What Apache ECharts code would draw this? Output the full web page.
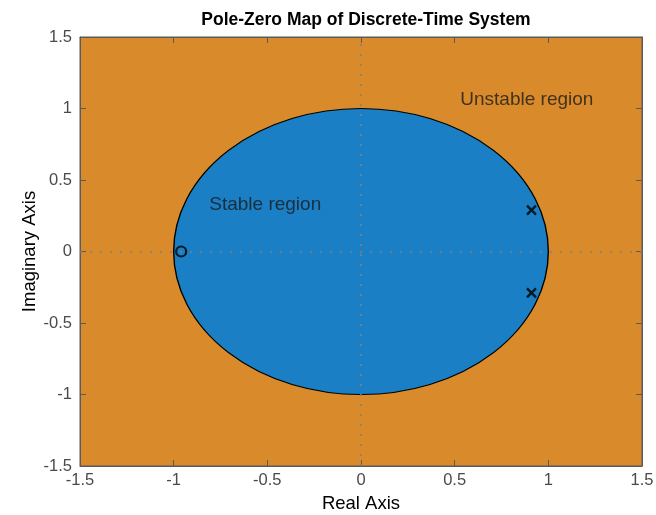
<!DOCTYPE html>
<html><head><meta charset="utf-8">
<script src="https://cdn.jsdelivr.net/npm/echarts@6/dist/echarts.min.js"></script>
<style>html,body{margin:0;padding:0;background:#fff}#c{width:656px;height:515px}</style>
</head><body><div id="c"></div>
<script>
const xTicks = [-1.5, -1, -0.5, 0, 0.5, 1, 1.5];
const yTicks = [-1.5, -1, -0.5, 0, 0.5, 1, 1.5];
const zeros = [[-0.96, 0]];
const poles = [[0.91, 0.29], [0.91, -0.29]];
const unitCircle = [[0, 0, 1]]; // center x, center y, radius
const labels = [
  { text: 'Stable region', pos: [-0.81, 0.33] },
  { text: 'Unstable region', pos: [0.53, 1.06] }
];
const FONT = 'Liberation Sans';
const chart = echarts.init(document.getElementById('c'), null, { renderer: 'canvas' });
const axisLine = { show: true, onZero: false, lineStyle: { color: '#5a5a5a', width: 1 } };
const tickStyle = { show: true, inside: true, length: 6, lineStyle: { color: '#5a5a5a' } };
const fmt = v => String(v);
chart.setOption({
  animation: false,
  title: {
    text: 'Pole-Zero Map of Discrete-Time System',
    left: 361, top: 6, textAlign: 'center',
    textStyle: { fontFamily: FONT, fontSize: 17.5, fontWeight: 'bold', color: '#000' }
  },
  grid: { left: 80, right: 14, top: 37, bottom: 49, outerBoundsMode: 'none', containLabel: false,
    show: true, backgroundColor: '#D98A2B', borderColor: '#5a5a5a', borderWidth: 1 },
  xAxis: [
    { type: 'value', min: -1.5, max: 1.5, interval: 0.5, position: 'bottom',
      name: 'Real Axis', nameLocation: 'middle', nameGap: 28, nameMoveOverlap: false,
      nameTextStyle: { fontFamily: FONT, fontSize: 18.5, color: '#000' },
      axisLine, axisTick: tickStyle, splitLine: { show: false },
      axisLabel: { fontFamily: FONT, fontSize: 16.5, color: '#4a4a4a', margin: 6, formatter: fmt } },
    { type: 'value', min: -1.5, max: 1.5, interval: 0.5, position: 'top',
      axisLine, axisTick: tickStyle, splitLine: { show: false }, axisLabel: { show: false } }
  ],
  yAxis: [
    { type: 'value', min: -1.5, max: 1.5, interval: 0.5, position: 'left',
      name: 'Imaginary Axis', nameLocation: 'middle', nameGap: 41, nameMoveOverlap: false,
      nameTextStyle: { fontFamily: FONT, fontSize: 18.5, color: '#000' },
      axisLine, axisTick: tickStyle, splitLine: { show: false },
      axisLabel: { fontFamily: FONT, fontSize: 16.5, color: '#4a4a4a', margin: 8, formatter: fmt } },
    { type: 'value', min: -1.5, max: 1.5, interval: 0.5, position: 'right',
      axisLine, axisTick: tickStyle, splitLine: { show: false }, axisLabel: { show: false } }
  ],
  series: [
    {
      type: 'custom', data: unitCircle, z: 1, clip: true,
      renderItem: function (params, api) {
        const c = api.coord([api.value(0), api.value(1)]);
        const s = api.size([api.value(2), api.value(2)]);
        const rx = s[0], ry = s[1];
        return {
          type: 'circle',
          shape: { cx: 0, cy: 0, r: rx },
          x: c[0], y: c[1], scaleY: ry / rx,
          style: { fill: '#1A7FC4', stroke: '#000', lineWidth: 1.4, strokeNoScale: true }
        };
      }
    },
    {
      type: 'scatter', data: [], z: 2, silent: true,
      markLine: {
        silent: true, symbol: 'none', label: { show: false },
        lineStyle: { color: '#808080', type: [2, 8], width: 1.6 },
        data: [{ xAxis: 0 }, { yAxis: 0 }]
      }
    },
    {
      type: 'scatter', data: zeros, z: 5, symbol: 'circle', symbolSize: 10,
      itemStyle: { color: 'rgba(0,0,0,0)', borderColor: '#000', borderWidth: 2.2 }
    },
    {
      type: 'scatter', data: poles, z: 5, symbol: 'path://M0,0L10,10M10,0L0,10', symbolSize: 9,
      itemStyle: { color: 'rgba(0,0,0,0)', borderColor: '#000', borderWidth: 2.4 }
    },
    {
      type: 'scatter', z: 6, symbolSize: 0,
      data: labels.map(l => ({ value: l.pos, name: l.text })),
      label: { show: true, position: 'right', distance: 0, formatter: p => p.name,
        fontFamily: FONT, fontSize: 19, color: '#1a1a1a' }
    }
  ]
});
</script></body></html>
